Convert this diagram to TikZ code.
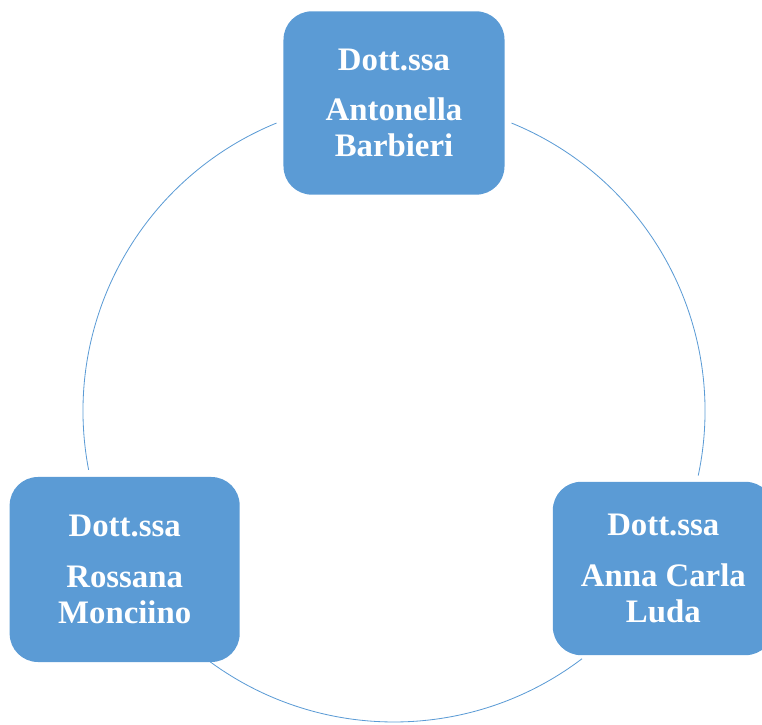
\documentclass[tikz,border=0pt]{standalone}
\usepackage{fontspec}
\setmainfont{Liberation Serif}
\usetikzlibrary{calc}
\definecolor{boxblue}{HTML}{5B9BD5}

\begin{document}
\begin{tikzpicture}[x=0.03cm,y=0.03cm,
  box/.style={rounded corners=0.85cm,fill=boxblue,text=white,align=center,
    minimum width=6.63cm,minimum height=5.5cm,inner sep=0pt,
    font=\bfseries\fontsize{28}{31}\selectfont},
  ring/.style={draw=boxblue,line width=0.7pt}]
  \useasboundingbox (0,0) rectangle (762,724);
  \coordinate (c) at (394,313);

  \draw[ring] ($(c)+(112.2:311)$) arc[start angle=112.2,end angle=190.9,radius=311];
  \draw[ring] ($(c)+(233.8:311)$) arc[start angle=233.8,end angle=307.2,radius=311];
  \draw[ring] ($(c)+(-12:311)$) arc[start angle=-12,end angle=67.8,radius=311];

  \node[box] (barbieri) at ($(c)+(90:311)+(0,-3)$) {Dott.ssa\\[12pt]Antonella\\Barbieri};
  \node[box,minimum width=6.9cm,minimum height=5.55cm] (monciino) at ($(c)+(210:311)+(0,-3)$) {Dott.ssa\\[12pt]Rossana\\Monciino};
  \node[box,minimum height=5.2cm] (luda) at ($(c)+(330:311)+(0,-2)$) {Dott.ssa\\[12pt]Anna Carla\\Luda};
\end{tikzpicture}
\end{document}
